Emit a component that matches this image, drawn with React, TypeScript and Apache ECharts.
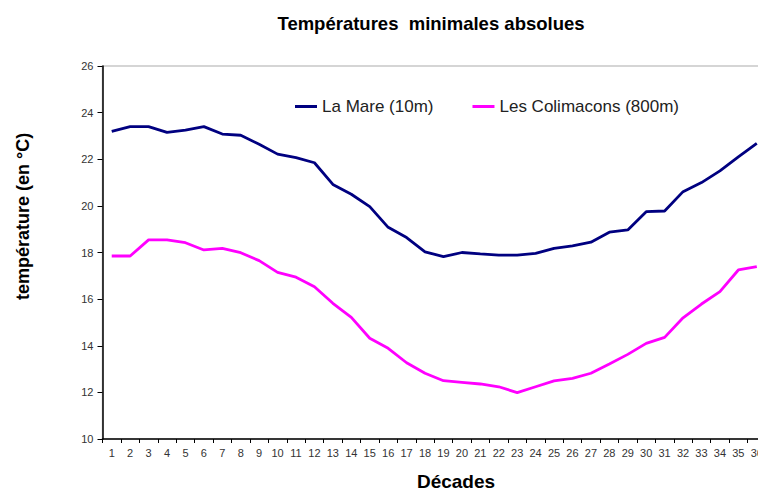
import React, { useEffect, useRef } from "react";
import * as echarts from "echarts";

const categories = [
  "1","2","3","4","5","6","7","8","9","10","11","12","13","14","15","16","17","18",
  "19","20","21","22","23","24","25","26","27","28","29","30","31","32","33","34","35","36",
];
const laMare = [
  23.2, 23.4, 23.4, 23.15, 23.25, 23.4, 23.08, 23.03, 22.64, 22.22, 22.07, 21.85,
  20.92, 20.5, 19.97, 19.08, 18.64, 18.03, 17.82, 18.0, 17.94, 17.89, 17.89, 17.96,
  18.18, 18.28, 18.44, 18.87, 18.97, 19.75, 19.78, 20.61, 21.0, 21.5, 22.1, 22.68,
];
const colimacons = [
  17.85, 17.85, 18.54, 18.54, 18.42, 18.11, 18.18, 17.99, 17.65, 17.15, 16.94, 16.53,
  15.82, 15.22, 14.32, 13.89, 13.27, 12.82, 12.5, 12.43, 12.36, 12.24, 11.99, 12.24,
  12.49, 12.6, 12.82, 13.22, 13.63, 14.1, 14.36, 15.2, 15.79, 16.32, 17.25, 17.39,
];
const seriesNames = ["La Mare (10m)", "Les Colimacons (800m)"];
const titleText = "Températures  minimales absolues";
const yName = "température (en °C)";
const xName = "Décades";

const FONT = "Liberation Sans, Arial, sans-serif";

export default function App() {
  const ref = useRef<HTMLDivElement>(null);
  useEffect(() => {
    if (!ref.current) return;
    const chart = echarts.init(ref.current, undefined, { renderer: "svg" });
    chart.setOption({
      animation: false,
      backgroundColor: "#ffffff",
      textStyle: { fontFamily: FONT },
      title: {
        text: titleText,
        left: 426,
        top: 9,
        textAlign: "center",
        textStyle: { fontFamily: FONT, fontSize: 18.5, fontWeight: "bold", color: "#000" },
      },
      legend: {
        data: seriesNames,
        left: 290,
        top: 93,
        itemWidth: 22,
        itemHeight: 3,
        itemGap: 39,
        icon: "rect",
        textStyle: { fontFamily: FONT, fontSize: 17, color: "#222" },
      },
      grid: {
        left: 102.5,
        top: 66,
        right: 4,
        bottom: 56,
        show: true,
        borderColor: "#c8c8c8",
        borderWidth: 1.5,
        backgroundColor: "#fff",
      },
      xAxis: {
        type: "category",
        data: categories,
        boundaryGap: true,
        axisLine: { show: true, lineStyle: { color: "#000", width: 1.5 } },
        axisTick: { show: true, alignWithLabel: false, length: 4, lineStyle: { color: "#000" } },
        axisLabel: { interval: 0, fontFamily: FONT, fontSize: 11, color: "#333", margin: 8 },
        splitLine: { show: false },
      },
      yAxis: {
        type: "value",
        min: 10,
        max: 26,
        interval: 2,
        axisLine: { show: true, lineStyle: { color: "#000", width: 1.5 } },
        axisTick: { show: true, length: 5, lineStyle: { color: "#000" } },
        axisLabel: { fontFamily: FONT, fontSize: 11, color: "#333", margin: 9 },
        splitLine: { show: false },
      },
      graphic: [
        {
          type: "text",
          x: 22.5,
          y: 216.5,
          rotation: Math.PI / 2,
          style: {
            text: yName,
            fontFamily: FONT,
            fontSize: 18,
            fontWeight: "bold",
            fill: "#000",
            textAlign: "center",
            textVerticalAlign: "middle",
          },
        },
        {
          type: "text",
          x: 456,
          y: 481,
          style: {
            text: xName,
            fontFamily: FONT,
            fontSize: 19,
            fontWeight: "bold",
            fill: "#000",
            textAlign: "center",
            textVerticalAlign: "middle",
          },
        },
      ],
      series: [
        {
          name: seriesNames[0],
          type: "line",
          data: laMare,
          symbol: "none",
          lineStyle: { color: "#000080", width: 2.8 },
          itemStyle: { color: "#000080" },
        },
        {
          name: seriesNames[1],
          type: "line",
          data: colimacons,
          symbol: "none",
          lineStyle: { color: "#ff00ff", width: 2.8 },
          itemStyle: { color: "#ff00ff" },
        },
      ],
    });
    return () => chart.dispose();
  }, []);
  return (
    <div
      style={{
        position: "fixed",
        left: 0,
        top: 0,
        width: 758,
        height: 495,
        overflow: "hidden",
        background: "#fff",
      }}
    >
      <div ref={ref} style={{ width: 770, height: 495 }} />
    </div>
  );
}
